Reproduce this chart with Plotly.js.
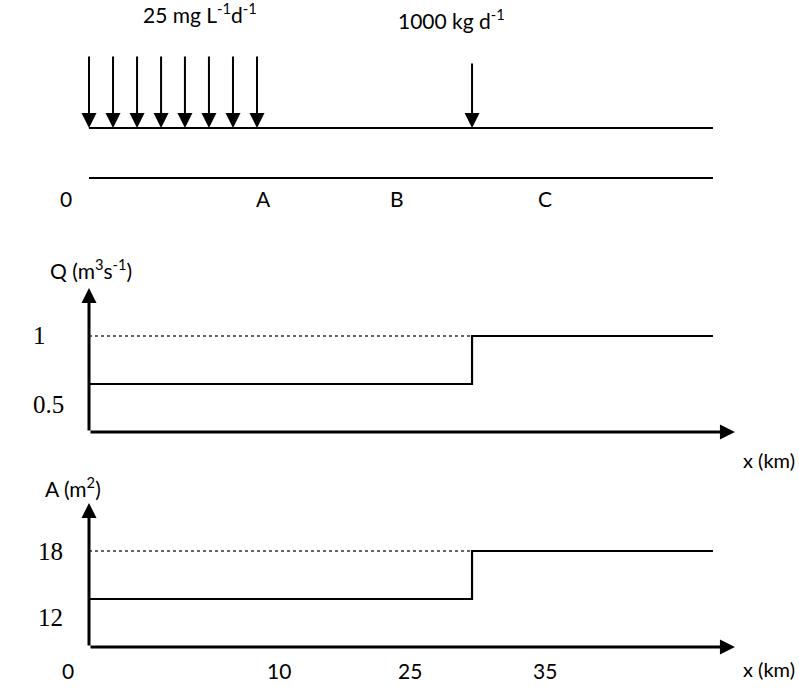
<!DOCTYPE html>
<html><head><meta charset="utf-8">
<script src="https://cdn.plot.ly/plotly-3.0.1.min.js"></script>
<style>html,body{margin:0;padding:0;background:#fff}</style>
</head><body><div id="chart" style="width:799px;height:688px"></div>
<script>
// ---- data (schematic positions along the river, km-like units) ----
const loadPositions = [0, 1.43, 2.86, 4.29, 5.71, 7.14, 8.57, 10];
const pointLoadPosition = 22.8;
const riverEnd = 37.14;
const stepX = [0, 22.8, 37.14];
const flowQ = [0.5, 1, 1];
const areaA = [12, 18, 18];
const qTickVals = [1, 0.5];
const qTickText = ['1', '0.5'];
const aTickVals = [18, 12];
const aTickText = ['18', '12'];
const sectionLabels = ['0', 'A', 'B', 'C'];
const distanceLabels = ['0', '10', '25', '35'];
const distributedLoadText = '25 mg L<sup>-1</sup>d<sup>-1</sup>';
const pointLoadText = '1000 kg d<sup>-1</sup>';

// ---- layout helpers ----
const sans = 'Lato, "Open Sans", sans-serif';
const serif = '"Liberation Serif", "Times New Roman", serif';
const black = '#000';
const sectionLabelX = [-1.37, 10.36, 18.33, 27.14];
const distanceLabelX = [-1.25, 11.31, 19.11, 27.14];
const xAxisTip = 38.45;

const traces = [
  {x: [0, riverEnd], y: [1, 1], yaxis: 'y3', mode: 'lines', line: {color: black, width: 2}},
  {x: [0, riverEnd], y: [0, 0], yaxis: 'y3', mode: 'lines', line: {color: black, width: 2}},
  {x: [stepX[0], stepX[1]], y: [flowQ[1], flowQ[1]], yaxis: 'y', mode: 'lines', line: {color: '#333', width: 1.3, dash: 'dot'}},
  {x: stepX, y: flowQ, yaxis: 'y', mode: 'lines', line: {color: black, width: 2.2, shape: 'hv'}},
  {x: [stepX[0], stepX[1]], y: [areaA[1], areaA[1]], yaxis: 'y2', mode: 'lines', line: {color: '#333', width: 1.3, dash: 'dot'}},
  {x: stepX, y: areaA, yaxis: 'y2', mode: 'lines', line: {color: black, width: 2.2, shape: 'hv'}}
];

const ann = [];
function arrow(x, y, ax, ay, yref, w, s) {
  ann.push({x: x, y: y, ax: ax, ay: ay, xref: 'x', yref: yref, axref: 'x', ayref: yref,
    text: '', showarrow: true, arrowhead: 2, arrowwidth: w, arrowsize: s, arrowcolor: black, standoff: 0});
}
function label(text, x, y, yref, font, size, yshift, xanchor) {
  ann.push({x: x, y: y, xref: 'x', yref: yref, text: text, showarrow: false,
    xanchor: xanchor || 'center',
    font: {family: font, size: size, color: black}, yshift: yshift || 0});
}
// distributed load arrows
loadPositions.forEach(p => arrow(p, 1, p, 2.46, 'y3', 2, 1.5));
arrow(pointLoadPosition, 1, pointLoadPosition, 2.32, 'y3', 2, 1.5);
label(distributedLoadText, 6.6, 3.3, 'y3', sans, 21);
label(pointLoadText, 21.6, 3.18, 'y3', sans, 21);
sectionLabels.forEach((t, i) => label(t, sectionLabelX[i], -0.4, 'y3', sans, 21));

// Q panel axes
arrow(0, 1.5, 0, 0, 'y', 3, 1);
arrow(xAxisTip, 0, 0, 0, 'y', 3, 1);
label('Q (m<sup>3</sup>s<sup>-1</sup>)', 0.1, 1.7, 'y', sans, 21);
label('x (km)', 42.15, -0.292, 'y', sans, 20, 0, 'right');
label(qTickText[0], -2.92, qTickVals[0], 'y', serif, 25, 0);
label(qTickText[1], -2.44, qTickVals[1], 'y', serif, 25, -21);

// A panel axes
arrow(0, 24, 0, 6, 'y2', 3, 1);
arrow(xAxisTip, 6, 0, 6, 'y2', 3, 1);
label('A (m<sup>2</sup>)', -0.95, 25.95, 'y2', sans, 21);
label('x (km)', 42.15, 3.25, 'y2', sans, 20, 0, 'right');
label(aTickText[0], -2.32, aTickVals[0], 'y2', serif, 25, 0);
label(aTickText[1], -2.32, aTickVals[1], 'y2', serif, 25, -18);
distanceLabels.forEach((t, i) => label(t, distanceLabelX[i], 3.125, 'y2', sans, 21));

const hidden = {visible: false, fixedrange: true};
const layout = {
  width: 799, height: 688,
  margin: {l: 0, r: 0, t: 0, b: 0},
  paper_bgcolor: '#fff', plot_bgcolor: '#fff',
  showlegend: false,
  xaxis: Object.assign({range: [-5.2976, 42.262], domain: [0, 1]}, hidden),
  yaxis: Object.assign({range: [-0.4479, 1.8958], domain: [0.30959, 0.63663], anchor: 'x'}, hidden),
  yaxis2: Object.assign({range: [0.875, 27.125], domain: [0, 0.30523], anchor: 'x'}, hidden),
  yaxis3: Object.assign({range: [-0.843, 3.56], domain: [0.68, 1], anchor: 'x'}, hidden),
  annotations: ann
};
Plotly.newPlot('chart', traces, layout, {staticPlot: true, displayModeBar: false});
</script></body></html>
